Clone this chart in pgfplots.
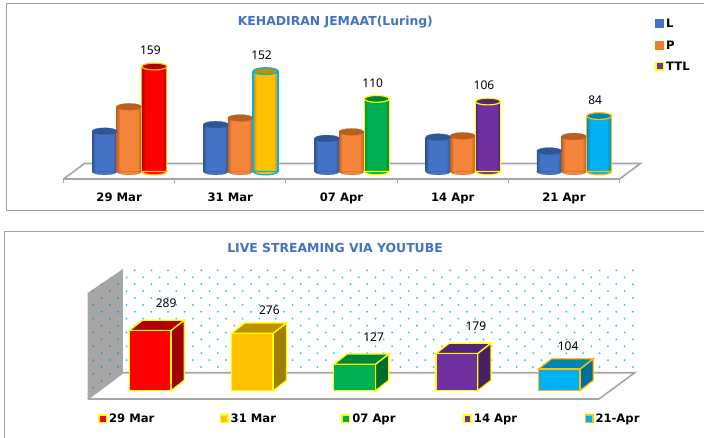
\documentclass[border=0pt]{standalone}
\usepackage{fontspec}
\usepackage{pgfplots}
\pgfplotsset{compat=1.18}
\usetikzlibrary{patterns}
\setmainfont{Noto Sans}
\newfontfamily\dv{DejaVu Sans}
\newcommand\bd{\dv\bfseries\fontsize{11.6}{13}\selectfont}
\newcommand\ttl{\dv\bfseries\fontsize{12.4}{14}\selectfont}
\newcommand\lab{\fontsize{12}{14}\selectfont}
\definecolor{ttlblue}{HTML}{4472C4}
\definecolor{flr}{HTML}{A6A6A6}
\definecolor{frm}{HTML}{A0A0A0}
\definecolor{Lm}{HTML}{4472C4}\definecolor{Le}{HTML}{2F5597}\definecolor{Lt}{HTML}{2F5597}
\definecolor{Pm}{HTML}{F5853A}\definecolor{Pe}{HTML}{BE6020}\definecolor{Pt}{HTML}{B9601F}
\definecolor{Pl}{HTML}{ED7D31}
\definecolor{Rm}{HTML}{FF0000}\definecolor{Re}{HTML}{B00000}\definecolor{Rt}{HTML}{B00000}\definecolor{Rs}{HTML}{A00000}
\definecolor{Ym}{HTML}{FFC000}\definecolor{Ye}{HTML}{C09000}\definecolor{Yt}{HTML}{BF9000}\definecolor{Ys}{HTML}{A07C00}
\definecolor{Gm}{HTML}{00B050}\definecolor{Ge}{HTML}{008A3E}\definecolor{Gt}{HTML}{008438}\definecolor{Gs}{HTML}{006B2E}
\definecolor{Um}{HTML}{7030A0}\definecolor{Ue}{HTML}{542478}\definecolor{Ut}{HTML}{542478}\definecolor{Us}{HTML}{482064}
\definecolor{Bm}{HTML}{00B0F0}\definecolor{Be}{HTML}{0088BA}\definecolor{Bt}{HTML}{0084B4}\definecolor{Bs}{HTML}{006F98}
\definecolor{oA}{HTML}{FFC000}\definecolor{oB}{HTML}{00B0F0}\definecolor{oY}{HTML}{FFFF00}
\definecolor{dotA}{HTML}{25BCF5}\definecolor{dotB}{HTML}{2E8FBF}
\newcommand\declcyl[3]{\pgfdeclarehorizontalshading{#1}{100bp}{color(0bp)=(#2); color(25bp)=(#2); color(32bp)=(#3); color(66bp)=(#3); color(75bp)=(#2); color(100bp)=(#2)}}
\declcyl{cylL}{Le}{Lm}\declcyl{cylP}{Pe}{Pm}\declcyl{cylR}{Re}{Rm}\declcyl{cylY}{Ye}{Ym}
\declcyl{cylG}{Ge}{Gm}\declcyl{cylU}{Ue}{Um}\declcyl{cylB}{Be}{Bm}
\pgfdeclarepatternformonly{wdots}{\pgfqpoint{-1pt}{-1pt}}{\pgfqpoint{17pt}{14pt}}{\pgfqpoint{16.6pt}{13.8pt}}{%
  \pgfpathcircle{\pgfqpoint{2pt}{2pt}}{1pt}\pgfpathcircle{\pgfqpoint{10.3pt}{8.9pt}}{1pt}\pgfusepath{fill}}
\pgfdeclareplotmark{ell}{\pgfpathellipse{\pgfpointorigin}{\pgfqpoint{12.5pt}{0pt}}{\pgfqpoint{0pt}{3.4pt}}\pgfusepathqfillstroke}
\pgfdeclareplotmark{ellb}{\path[botstyle] (-12.5pt,0pt) arc[start angle=180,end angle=360,x radius=12.5pt,y radius=3.4pt] -- cycle;}
% cylinder: x, value, shading, top colour, outline, line width
\newcommand\cyl[6]{%
  \pgfmathsetmacro\xl{#1-.1125}\pgfmathsetmacro\xr{#1+.1125}%
  \addplot[forget plot,only marks,mark=ellb,mark options={botstyle/.style={shade,shading=#3,draw=#5,line width=#6}}] coordinates {(#1,0)};
  \addplot[forget plot,ybar,bar width=25pt,draw=none,shade,shading=#3] coordinates {(#1,#2)};
  \addplot[forget plot,draw=#5,line width=#6] coordinates {(\xl,0)(\xl,#2)};
  \addplot[forget plot,draw=#5,line width=#6] coordinates {(\xr,0)(\xr,#2)};
  \addplot[forget plot,only marks,mark=ell,mark options={draw=#5,fill=#4,line width=#6}] coordinates {(#1,#2)};
}
% value label above a bar: x, value, xshift, yshift
\newcommand\vlab[4]{%
  \addplot[forget plot,draw=none,mark=none,nodes near coords,
    every node near coord/.style={font=\lab,anchor=center,text=black,xshift=#3pt,yshift=#4pt}] coordinates {(#1,#2)};
}
% box: x, value, front, top, side, outline
\newcommand\cub[6]{%
  \pgfmathsetmacro\xl{#1-.2035}\pgfmathsetmacro\xr{#1+.2035}%
  \pgfmathsetmacro\xld{#1-.0735}\pgfmathsetmacro\xrd{#1+.3335}%
  \pgfmathsetmacro\vd{#2+49.5}%
  \addplot[forget plot,fill=#5,draw=#6,line width=1.3pt] coordinates {(\xr,0)(\xr,#2)(\xrd,\vd)(\xrd,49.5)} -- cycle;
  \addplot[forget plot,fill=#4,draw=#6,line width=1.3pt] coordinates {(\xl,#2)(\xr,#2)(\xrd,\vd)(\xld,\vd)} -- cycle;
  \addplot[forget plot,ybar,bar width=41.6pt,fill=#3,draw=#6,line width=1.3pt] coordinates {(#1,#2)};
}
\pgfplotsset{
  base/.style={scale only axis,clip=false,axis y line=none,axis x line*=bottom,
    x axis line style={draw=flr,line width=1.6pt},ytick=\empty,
    /pgf/number format/assume math mode=true,
    xmin=0,xmax=5,
    legend style={draw=none,fill=none,font=\bd,text=black}},
  sq/.style={legend image code/.code={\fill[#1] (0pt,-3pt) rectangle (8pt,5pt);}},
  sqt/.style 2 args={legend image code/.code={\draw[fill=#1,draw=#2,line width=1.6pt] (0.8pt,-2.7pt) rectangle (8.2pt,4.7pt);}},
  sqo/.style 2 args={legend image code/.code={\draw[fill=#1,draw=#2,line width=1.6pt] (0.8pt,-3.7pt) rectangle (8.2pt,3.7pt);}},
}
\begin{document}
\begin{tikzpicture}[x=1pt,y=1pt]
\useasboundingbox (0,0) rectangle (704,438);
\fill[white] (0,0) rectangle (704,438);
\draw[frm,line width=1pt] (712,434.3) -- (6,434.3) -- (6,227) -- (712,227);
\draw[frm,line width=1pt] (712,206.3) -- (4,206.3) -- (4,-5);

\begin{axis}[base,at={(63.5pt,259pt)},anchor=south west,width=556pt,height=139pt,
  ymin=-11.4,ymax=199.2,
  title={KEHADIRAN JEMAAT(Luring)},
  title style={at={(axis description cs:.489,1.087)},anchor=center,font=\ttl,text=ttlblue},
  xtick={0.5,1.5,2.5,3.5,4.5},xticklabels={29 Mar,31 Mar,07 Apr,14 Apr,21 Apr},
  minor xtick={0,1,2,3,4,5},major tick length=0pt,minor tick length=4pt,tick align=outside,
  tick style={draw=flr,line width=1pt},
  xticklabel style={font=\bd,text=black,yshift=-10pt,text height=9pt,text depth=2.5pt},
  legend style={at={(axis description cs:1.0635,1.165)},anchor=north west,row sep=7.6pt,inner sep=0pt},
  legend cell align=left]
\addplot[forget plot,draw=flr,line width=1.6pt] coordinates {(0,-11.4)(.189,12.1)(5.189,12.1)(5,-11.4)};
\addlegendimage{sq=Lm}\addlegendentry{L}
\addlegendimage{sq=Pl}\addlegendentry{P}
\addlegendimage{sqt={Um}{oY}}\addlegendentry{TTL}
% L, P, TTL
\cyl{0.369}{61}{cylL}{Lt}{Le}{.2pt}
\cyl{0.590}{98}{cylP}{Pt}{Pe}{.2pt}
\cyl{0.817}{159}{cylR}{Rt}{oA}{1.2pt}
\vlab{0.817}{159}{-4}{16}
\cyl{1.369}{71}{cylL}{Lt}{Le}{.2pt}
\cyl{1.590}{81}{cylP}{Pt}{Pe}{.2pt}
\cyl{1.817}{152}{cylY}{Yt}{oB}{1.2pt}
\vlab{1.817}{152}{-4}{16}
\cyl{2.369}{50}{cylL}{Lt}{Le}{.2pt}
\cyl{2.590}{60}{cylP}{Pt}{Pe}{.2pt}
\cyl{2.817}{110}{cylG}{Gt}{oY}{1.2pt}
\vlab{2.817}{110}{-4}{16}
\cyl{3.369}{52}{cylL}{Lt}{Le}{.2pt}
\cyl{3.590}{54}{cylP}{Pt}{Pe}{.2pt}
\cyl{3.817}{106}{cylU}{Ut}{oY}{1.2pt}
\vlab{3.817}{106}{-4}{16}
\cyl{4.369}{31}{cylL}{Lt}{Le}{.2pt}
\cyl{4.590}{53}{cylP}{Pt}{Pe}{.2pt}
\cyl{4.817}{84}{cylB}{Bt}{oA}{1.2pt}
\vlab{4.817}{84}{-4}{16}
\end{axis}

\begin{axis}[base,at={(87.7pt,39pt)},anchor=south west,width=511.3pt,height=130pt,
  ymin=-39.9,ymax=585,xtick=\empty,
  title={LIVE STREAMING VIA YOUTUBE},
  title style={at={(axis description cs:.4837,1.115)},anchor=center,font=\ttl,text=ttlblue},
  legend style={at={(axis description cs:.02,-.152)},anchor=west,legend columns=5,inner sep=0pt},
  legend cell align=left]
% back wall, left wall, floor
\addplot[forget plot,draw=none,pattern=wdots,pattern color=dotA] coordinates {(.345,86.5)(.345,585)(5.349,585)(5.349,86.5)};
\addplot[forget plot,draw=none,fill=flr] coordinates {(0,-39.9)(0,469.7)(.345,585)(.345,86.5)};
\addplot[forget plot,draw=none,pattern=wdots,pattern color=dotB] coordinates {(0,-39.9)(0,469.7)(.345,585)(.345,86.5)};
\addplot[forget plot,draw=flr,line width=1.6pt] coordinates {(0,-39.9)(.345,86.5)(5.349,86.5)(5,-39.9)};
\addlegendimage{sqo={Rm}{oY}}\addlegendentry{\makebox[108.6pt][l]{29 Mar}}
\addlegendimage{sqo={Ym}{oY}}\addlegendentry{\makebox[108.6pt][l]{31 Mar}}
\addlegendimage{sqo={Gm}{oY}}\addlegendentry{\makebox[108.6pt][l]{07 Apr}}
\addlegendimage{sqo={Um}{oY}}\addlegendentry{\makebox[108.6pt][l]{14 Apr}}
\addlegendimage{sqo={Bm}{oA}}\addlegendentry{21-Apr}
\cub{0.61}{289}{Rm}{Rt}{Rs}{oY}
\vlab{0.61}{289}{16}{27}
\cub{1.61}{276}{Ym}{Yt}{Ys}{oY}
\vlab{1.61}{276}{17}{23}
\cub{2.61}{127}{Gm}{Gt}{Gs}{oY}
\vlab{2.61}{127}{19}{27}
\cub{3.61}{179}{Um}{Ut}{Us}{oY}
\vlab{3.61}{179}{19}{27}
\cub{4.61}{104}{Bm}{Bt}{Bs}{oA}
\vlab{4.61}{104}{9}{23}
\end{axis}
\end{tikzpicture}
\end{document}
